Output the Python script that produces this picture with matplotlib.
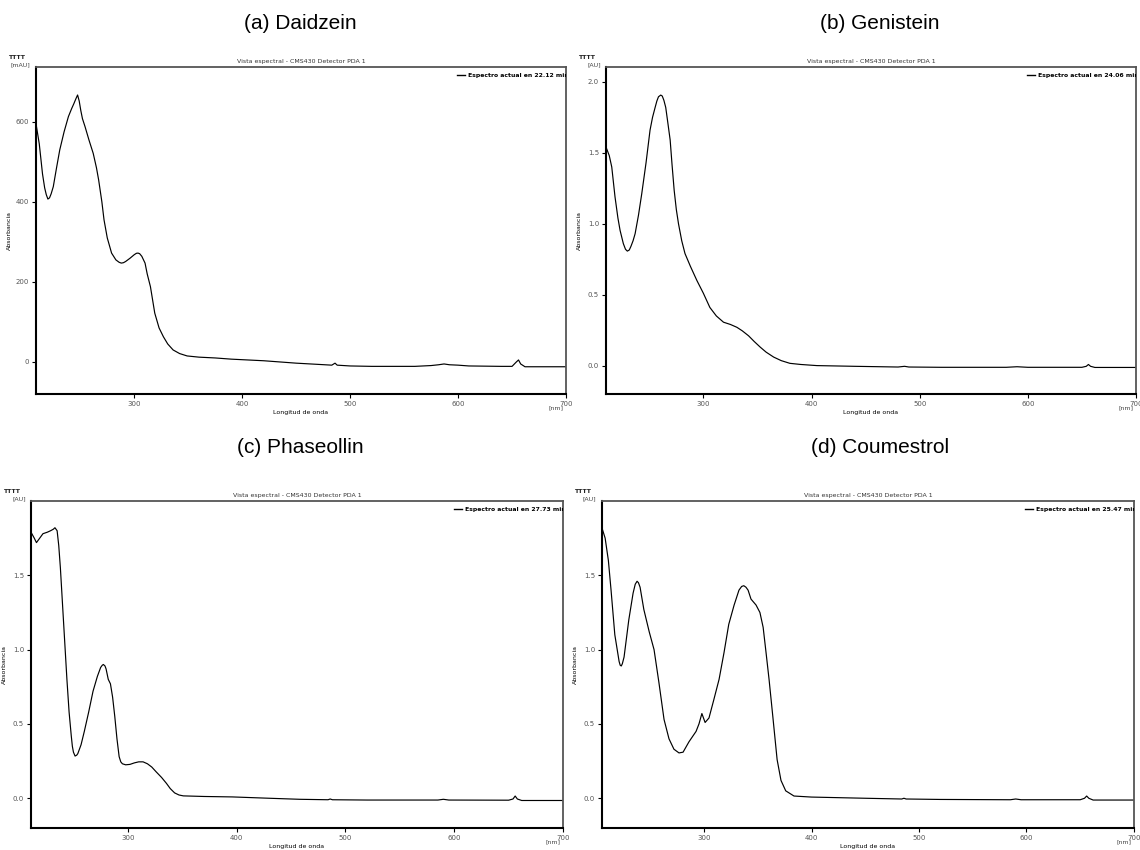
import matplotlib
matplotlib.use("Agg")
import matplotlib.pyplot as plt

wl_a = [209, 212, 215, 217, 218.5, 220, 221.5, 223, 225, 228, 231, 235, 239, 242, 244, 246, 247.5,
        249, 250.5, 252, 254.4, 258, 262, 265, 267, 270, 272, 275, 279, 283, 286, 288, 290, 292,
        296, 300, 302, 303.5, 305, 307, 310, 312, 315, 319, 323, 327, 331, 336, 342, 349, 360,
        375, 390, 420, 450, 470, 483, 486, 488, 500, 520, 560, 575, 582, 587, 592, 600, 610, 640,
        650, 654, 656, 658, 662, 680, 700]
abs_a = [595, 545, 470, 435, 418, 407, 410, 420, 438, 485, 530, 575, 613, 633, 645, 658, 667,
         652, 628, 608, 588, 555, 521, 485, 455, 400, 355, 310, 272, 255, 249, 247, 248, 251,
         259, 268, 271.5, 272, 270.5, 264, 247, 220, 188, 122, 85, 63, 45, 30, 21, 15, 12,
         10, 7, 3, -3, -6, -8, -3, -8, -10, -11, -11, -9, -7, -5, -7, -8, -10, -11,
         -11, 0, 5, -5, -12, -12, -12]

wl_b = [210, 213, 215.3, 218.3, 221, 223, 226, 228, 229.7, 231.5, 233, 235, 236.9, 240, 243, 247,
        250.7, 253, 255.4, 257, 258.5, 260.6, 262, 263.5, 265.2, 267, 269.3, 271, 273, 275, 277,
        280, 283, 288, 294, 300, 306, 312, 318.6, 325, 331, 336, 341.8, 347, 352.6, 358, 365,
        372, 380, 390, 405, 440, 480, 486, 490, 520, 580, 590, 600, 650, 654, 656, 658, 662, 700]
abs_b = [1.54, 1.48, 1.40, 1.19, 1.04, 0.953, 0.86, 0.82, 0.807, 0.815, 0.84, 0.88, 0.93, 1.06, 1.21, 1.43,
         1.66, 1.75, 1.82, 1.865, 1.895, 1.907, 1.90, 1.87, 1.82, 1.72, 1.59, 1.42, 1.236, 1.10, 1.0,
         0.88, 0.79, 0.70, 0.60, 0.51, 0.41, 0.35, 0.306, 0.29, 0.27, 0.245, 0.21, 0.17, 0.13, 0.095, 0.06,
         0.035, 0.016, 0.008, 0.0, -0.005, -0.01, -0.005, -0.01, -0.012, -0.012, -0.008, -0.012, -0.012,
         -0.005, 0.008, -0.005, -0.013, -0.013]

wl_c = [211, 214, 216, 219, 222, 226, 229, 231.5, 233, 235, 236.5, 238, 240, 242, 244, 246, 248,
        249, 250, 251.5, 253, 254, 257, 260, 264, 268, 272, 275, 276.5, 277.5, 279, 280, 282, 284,
        286, 288, 290, 292, 293.5, 295, 298, 302, 306, 310, 314, 318, 322, 326, 331, 335.5, 339,
        343, 347, 351, 370, 396, 430, 458, 484, 486, 488, 520, 585, 590, 595, 650, 654, 656, 658,
        662, 700]
abs_c = [1.79, 1.75, 1.72, 1.75, 1.78, 1.79, 1.80, 1.81, 1.82, 1.80, 1.70, 1.55, 1.30, 1.05, 0.80, 0.58, 0.42,
         0.35, 0.31, 0.284, 0.29, 0.30, 0.36, 0.45, 0.58, 0.72, 0.82, 0.88, 0.895, 0.90, 0.89, 0.87, 0.80, 0.77,
         0.68, 0.55, 0.40, 0.28, 0.245, 0.232, 0.225, 0.228, 0.238, 0.245, 0.245, 0.232, 0.21, 0.178, 0.14, 0.10,
         0.065, 0.036, 0.022, 0.016, 0.012, 0.009, 0.0, -0.007, -0.01, -0.005, -0.01, -0.012, -0.012, -0.007,
         -0.012, -0.013, -0.005, 0.015, -0.005, -0.015, -0.015]

wl_d = [205, 208, 211, 213.5, 217, 221, 222, 223, 224, 225.6, 230, 234, 236, 237.7, 239, 240.5, 244,
        249, 253.5, 258, 262.8, 267.4, 272, 276.7, 280.5, 286, 292.6, 295.3, 298, 301, 304.6, 309,
        314, 318.6, 323, 328, 332.5, 335, 337, 339, 341, 343.7, 348.4, 352, 355, 357.7, 360.5, 364,
        368, 371.6, 376, 383.7, 400, 450, 484, 486, 488, 520, 585, 590, 595, 650, 654, 656, 658,
        662, 700]
abs_d = [1.82, 1.75, 1.60, 1.40, 1.10, 0.92, 0.895, 0.89, 0.905, 0.95, 1.20, 1.38, 1.44, 1.46, 1.45, 1.42, 1.27,
         1.12, 1.0, 0.78, 0.53, 0.40, 0.33, 0.305, 0.31, 0.38, 0.45, 0.50, 0.57, 0.51, 0.54, 0.66,
         0.80, 0.98, 1.17, 1.30, 1.40, 1.425, 1.43, 1.42, 1.40, 1.34, 1.30, 1.25, 1.15, 0.98, 0.80, 0.55,
         0.26, 0.12, 0.05, 0.015, 0.008, 0.0, -0.005, 0.0, -0.005, -0.008, -0.01, -0.005, -0.01, -0.01,
         0.0, 0.015, 0.0, -0.012, -0.012]

titulos = ["(a) Daidzein", "(b) Genistein", "(c) Phaseollin", "(d) Coumestrol"]
tiempos = ["22.12", "24.06", "27.73", "25.47"]
unidades = ["[mAU]", "[AU]", "[AU]", "[AU]"]
yticks = [[0, 200, 400, 600], [0.0, 0.5, 1.0, 1.5, 2.0], [0.0, 0.5, 1.0, 1.5], [0.0, 0.5, 1.0, 1.5]]
xticks = [300, 400, 500, 600, 700]

fig = plt.figure(figsize=(11.4, 8.5), dpi=100)
plt.rcParams['font.family'] = ['DejaVu Sans']

# posiciones de los ejes [left, bottom, width, height] y limites
posiciones = [[0.0316, 0.5365, 0.4649, 0.3847], [0.5316, 0.5365, 0.4649, 0.3847],
              [0.0272, 0.0259, 0.4667, 0.3847], [0.5280, 0.0259, 0.4667, 0.3847]]
xlims = [(209, 700), (210, 700), (211, 699), (205, 700)]
ylims = [(-80, 737), (-0.2, 2.105), (-0.2, 2.0), (-0.2, 2.0)]
titulo_pos = [(0.263, 0.983), (0.772, 0.983), (0.263, 0.485), (0.772, 0.485)]

datos = [(wl_a, abs_a), (wl_b, abs_b), (wl_c, abs_c), (wl_d, abs_d)]

for i in range(4):
    ax = fig.add_axes(posiciones[i])
    wl, ab = datos[i]
    ax.plot(wl, ab, color="black", linewidth=0.85)
    ax.set_xlim(xlims[i])
    ax.set_ylim(ylims[i])

    ax.set_xticks(xticks)
    ax.set_xticklabels([str(t) for t in xticks])
    ax.set_yticks(yticks[i])
    if i == 0:
        ax.set_yticklabels([str(t) for t in yticks[i]])
    else:
        ax.set_yticklabels(["%.1f" % t for t in yticks[i]])
    ax.tick_params(axis="both", direction="out", length=3, width=0.8,
                   labelsize=5, labelcolor="#555555", pad=2)

    for lado in ["left", "bottom"]:
        ax.spines[lado].set_linewidth(1.5)
        ax.spines[lado].set_color("black")
    for lado in ["top", "right"]:
        ax.spines[lado].set_linewidth(1.3)
        ax.spines[lado].set_color("#555555")

    ax.set_ylabel("Absorbancia", fontsize=4.5)
    ax.yaxis.set_label_coords(-0.045, 0.5)
    ax.set_xlabel("Longitud de onda", fontsize=4.5)
    ax.xaxis.set_label_coords(0.5, -0.05)

    ax.text(0.995, -0.035, "[nm]", transform=ax.transAxes, fontsize=4.5,
            ha="right", va="top", color="#444444")
    ax.text(-0.01, 1.0, unidades[i], transform=ax.transAxes, fontsize=4.5,
            ha="right", va="bottom", color="#444444")
    ax.text(-0.052, 1.02, "TTTT", transform=ax.transAxes, fontsize=4.5,
            ha="left", va="bottom", fontweight="bold", color="#222222")
    ax.text(0.5, 1.008, "Vista espectral - CMS430 Detector PDA 1", transform=ax.transAxes,
            fontsize=4.5, ha="center", va="bottom", color="#333333")

    # leyenda recortada en el borde derecho
    ax.plot([0.795, 0.81], [0.975, 0.975], transform=ax.transAxes, color="black", linewidth=1.0)
    ax.text(0.816, 0.975, "Espectro actual en " + tiempos[i] + " min", transform=ax.transAxes,
            fontsize=4.45, fontweight="bold", ha="left", va="center", clip_on=True)

    fig.text(titulo_pos[i][0], titulo_pos[i][1], titulos[i], fontsize=15,
             family=["Liberation Sans", "DejaVu Sans"], ha="center", va="top")

fig.savefig("out.png", dpi=100)
